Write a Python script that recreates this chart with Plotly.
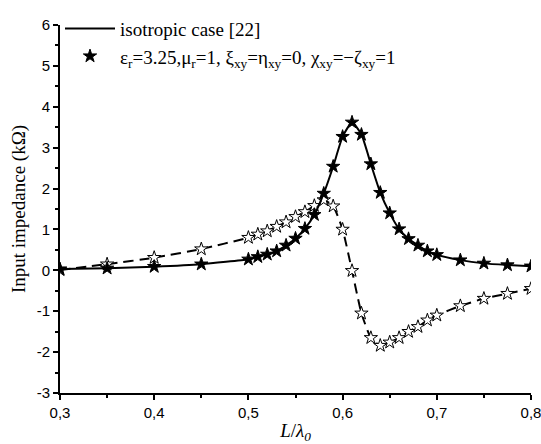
import plotly.graph_objects as go

x_vals = [0.30, 0.35, 0.40, 0.45, 0.50, 0.51, 0.52, 0.53, 0.54, 0.55, 0.56, 0.57, 0.58, 0.59,
          0.60, 0.61, 0.62, 0.63, 0.64, 0.65, 0.66, 0.67, 0.68, 0.69, 0.70, 0.725, 0.75, 0.775, 0.80]
z_solid = [0.03, 0.05, 0.09, 0.15, 0.27, 0.33, 0.39, 0.47, 0.61, 0.78, 1.02, 1.36, 1.88, 2.54,
           3.27, 3.62, 3.32, 2.60, 1.90, 1.40, 1.01, 0.77, 0.61, 0.47, 0.38, 0.25, 0.17, 0.13, 0.10]
z_dashed = [0.01, 0.15, 0.31, 0.52, 0.80, 0.88, 0.96, 1.07, 1.18, 1.31, 1.43, 1.58, 1.72, 1.57,
            1.00, -0.01, -1.05, -1.65, -1.84, -1.76, -1.65, -1.50, -1.38, -1.22, -1.10, -0.87, -0.69, -0.57, -0.45]

x_ticks = [0.3, 0.4, 0.5, 0.6, 0.7, 0.8]
x_tick_text = ["0,3", "0,4", "0,5", "0,6", "0,7", "0,8"]
y_ticks = [-3, -2, -1, 0, 1, 2, 3, 4, 5, 6]
y_tick_text = ["-3", "-2", "-1", "0", "1", "2", "3", "4", "5", "6"]

legend_iso = "isotropic case [22]"
legend_bi = ("ε<sub>r</sub>=3.25,μ<sub>r</sub>=1, ξ<sub>xy</sub>=η<sub>xy</sub>=0, "
             "χ<sub>xy</sub>=−ζ<sub>xy</sub>=1")

serif = "Liberation Serif, Times New Roman, serif"

fig = go.Figure()
fig.add_trace(go.Scatter(x=x_vals, y=z_dashed, mode="lines", showlegend=False,
                         line=dict(color="black", width=2, dash="10px,6px", shape="spline", smoothing=0.5)))
fig.add_trace(go.Scatter(x=x_vals, y=z_dashed, mode="markers", showlegend=False,
                         marker=dict(symbol="star", size=10, color="white",
                                     line=dict(color="black", width=1))))
fig.add_trace(go.Scatter(x=x_vals, y=z_solid, mode="lines", name=legend_iso,
                         line=dict(color="black", width=2, shape="spline", smoothing=0.5)))
fig.add_trace(go.Scatter(x=x_vals, y=z_solid, mode="markers", name=legend_bi,
                         marker=dict(symbol="star", size=10, color="black",
                                     line=dict(color="black", width=1))))

fig.update_layout(
    width=541, height=444,
    margin=dict(l=60, r=10, t=20, b=51),
    paper_bgcolor="white", plot_bgcolor="white",
    font=dict(family="Liberation Sans", size=15, color="black"),
    legend=dict(x=0.0, y=1.042, xanchor="left", yanchor="top",
                bgcolor="rgba(0,0,0,0)", traceorder="normal",
                font=dict(family=serif, size=19, color="black"),
                tracegroupgap=0, itemwidth=50),
    xaxis=dict(range=[0.3, 0.8], tickvals=x_ticks, ticktext=x_tick_text,
               ticklabeloverflow="allow", automargin=False,
               showgrid=False, zeroline=False, showline=True, linecolor="black", linewidth=2,
               ticks="outside", ticklen=5, tickwidth=2, tickcolor="black",
               minor=dict(dtick=0.05, ticks="outside", ticklen=3, tickwidth=2, tickcolor="black"),
               title=dict(text="<i>L</i>/<i>λ<sub>0</sub></i>",
                          font=dict(family=serif, size=19), standoff=4)),
    yaxis=dict(range=[-3, 6], tickvals=y_ticks, ticktext=y_tick_text,
               automargin=False,
               showgrid=False, zeroline=False, showline=True, linecolor="black", linewidth=2,
               ticks="outside", ticklen=5, tickwidth=2, tickcolor="black",
               minor=dict(dtick=0.5, ticks="outside", ticklen=3, tickwidth=2, tickcolor="black"),
               title=dict(text="Input impedance (kΩ)",
                          font=dict(family=serif, size=19), standoff=6)),
)

fig.write_html("out.html")
